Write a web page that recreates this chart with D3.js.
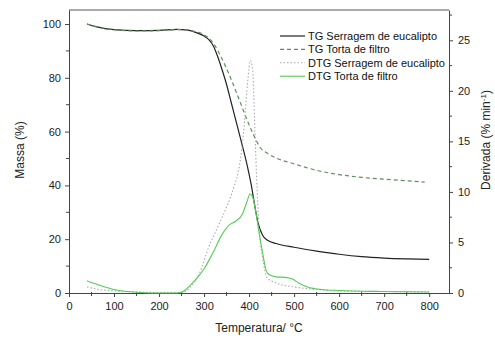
<!DOCTYPE html>
<html><head><meta charset="utf-8">
<script src="https://cdn.jsdelivr.net/npm/d3@7/dist/d3.min.js"></script>
<style>body{margin:0;background:#fff}svg{display:block}text{font-family:"Liberation Sans",Arial,sans-serif}</style>
</head><body><svg id="c" width="495" height="338"></svg>
<script>
const seriesNames = ["TG Serragem de eucalipto","TG Torta de filtro","DTG Serragem de eucalipto","DTG Torta de filtro"];
const xTicks = [0,100,200,300,400,500,600,700,800];
const yLeftTicks = [0,20,40,60,80,100];
const yRightTicks = [0,5,10,15,20,25];
// [temperature, value]
const tgSerragem = [[40,100],[60,99],[80,98.3],[100,97.9],[150,97.5],[200,97.6],[240,98],[260,97.8],[280,97],[300,95.5],[310,94.3],[320,92],[330,88],[340,83],[350,77.5],[360,71],[380,58],[395,48],[405,40],[412,33],[420,26],[430,21.5],[440,19.7],[460,18.4],[500,17],[550,15.6],[600,14.4],[650,13.5],[700,13],[750,12.7],[800,12.5]];
const tgTorta = [[40,100],[60,99],[80,98.3],[100,97.9],[150,97.4],[200,97.5],[240,97.9],[260,97.8],[280,97.2],[300,96],[320,93],[340,87],[360,79.5],[380,71],[400,62.5],[415,57],[425,54],[440,52],[460,50.2],[500,48],[550,45.6],[600,44],[650,43],[700,42.3],[750,41.7],[790,41.2]];
const dtgSerragem = [[40,0.6],[60,0.4],[100,0.2],[150,0.1],[200,0.05],[250,0.05],[270,0.6],[290,2],[310,4.5],[330,6.5],[350,8.5],[365,10.3],[380,13],[390,17],[397,21],[403,23],[408,22],[413,16],[418,10],[423,6],[430,3.5],[440,1.5],[460,1.0],[500,0.6],[550,0.35],[600,0.2],[700,0.15],[800,0.1]];
const dtgTorta = [[40,1.2],[60,0.9],[80,0.6],[100,0.35],[130,0.15],[160,0.05],[200,0],[240,0],[255,0.2],[270,0.8],[290,1.8],[300,2.4],[320,4],[340,5.8],[355,6.7],[370,7.1],[385,7.8],[395,9],[402,9.8],[408,9.5],[415,8],[422,6],[430,4],[438,2.2],[445,1.8],[460,1.6],[480,1.55],[495,1.4],[510,1.0],[530,0.6],[560,0.35],[600,0.25],[700,0.15],[800,0.1]];

const svg = d3.select("#c");
const L=69,R=449,T=10,B=293;
const x = d3.scaleLinear().domain([0,844]).range([L,R]);
const yL = d3.scaleLinear().domain([0,105.2]).range([B,T]);
const yR = d3.scaleLinear().domain([0,28]).range([B,T]);

svg.append("line").attr("x1",L).attr("x2",R).attr("y1",T).attr("y2",T).attr("stroke","#555").attr("stroke-width",1);

function axis(g, ax){
  g.call(ax);
  g.select(".domain").attr("stroke","#444");
  g.selectAll(".tick line").attr("stroke","#444");
  g.selectAll(".tick text").attr("fill","#222").style("font-size","11px").style("font-family","Liberation Sans, Arial, sans-serif");
}
const gx = svg.append("g").attr("transform",`translate(0,${B})`);
axis(gx, d3.axisBottom(x).tickValues(xTicks).tickSize(4).tickSizeOuter(0).tickPadding(5));
gx.selectAll(".minor").data(d3.range(50,850,100)).enter().append("line")
  .attr("x1",d=>x(d)).attr("x2",d=>x(d)).attr("y1",-1).attr("y2",3).attr("stroke","#444");

const gy = svg.append("g").attr("transform",`translate(${L},0)`);
axis(gy, d3.axisLeft(yL).tickValues(yLeftTicks).tickSize(4).tickSizeOuter(0).tickPadding(4));
gy.selectAll(".minor").data(d3.range(10,110,20)).enter().append("line")
  .attr("x1",-3).attr("x2",0).attr("y1",d=>yL(d)).attr("y2",d=>yL(d)).attr("stroke","#444");

const gr = svg.append("g").attr("transform",`translate(${R},0)`);
axis(gr, d3.axisRight(yR).tickValues(yRightTicks).tickSize(4).tickSizeOuter(0).tickPadding(5));
gr.selectAll(".minor").data(d3.range(2.5,28,5)).enter().append("line")
  .attr("x1",0).attr("x2",3).attr("y1",d=>yR(d)).attr("y2",d=>yR(d)).attr("stroke","#444");

const lineL = d3.line().x(d=>x(d[0])).y(d=>yL(d[1])).curve(d3.curveMonotoneX);
const lineR = d3.line().x(d=>x(d[0])).y(d=>yR(d[1])).curve(d3.curveMonotoneX);

const styles = [
  {data:tgSerragem, gen:lineL, color:"#222", dash:null, w:1.2},
  {data:tgTorta, gen:lineL, color:"#5e8f5e", dash:"4,3", w:1.2},
  {data:dtgSerragem, gen:lineR, color:"#aaaaaa", dash:"1.5,2", w:1.1},
  {data:dtgTorta, gen:lineR, color:"#55cc55", dash:null, w:1.1}
];
styles.forEach(s=>{
  svg.append("path").attr("d",s.gen(s.data)).attr("fill","none").attr("stroke",s.color)
    .attr("stroke-width",s.w).attr("stroke-dasharray",s.dash);
});

const lg = svg.append("g");
seriesNames.forEach((n,i)=>{
  const yy = 36 + i*13.4;
  lg.append("line").attr("x1",280).attr("x2",305).attr("y1",yy).attr("y2",yy)
    .attr("stroke",styles[i].color).attr("stroke-width",styles[i].w).attr("stroke-dasharray",styles[i].dash);
  lg.append("text").attr("x",308).attr("y",yy).attr("dy","0.35em").style("font-size","11px").attr("fill","#111").text(n);
});

svg.append("text").attr("transform","translate(24,150) rotate(-90)").attr("text-anchor","middle")
  .style("font-size","12px").attr("fill","#222").text("Massa (%)");
svg.append("text").attr("x",259).attr("y",332).attr("text-anchor","middle")
  .style("font-size","12px").attr("fill","#222").text("Temperatura/ °C");
const dl = svg.append("text").attr("transform","translate(490,140) rotate(-90)").attr("text-anchor","middle")
  .style("font-size","12px").attr("fill","#222");
dl.append("tspan").text("Derivada (% min");
dl.append("tspan").attr("dy","-4").style("font-size","8px").text("-1");
dl.append("tspan").attr("dy","4").text(")");
</script></body></html>
